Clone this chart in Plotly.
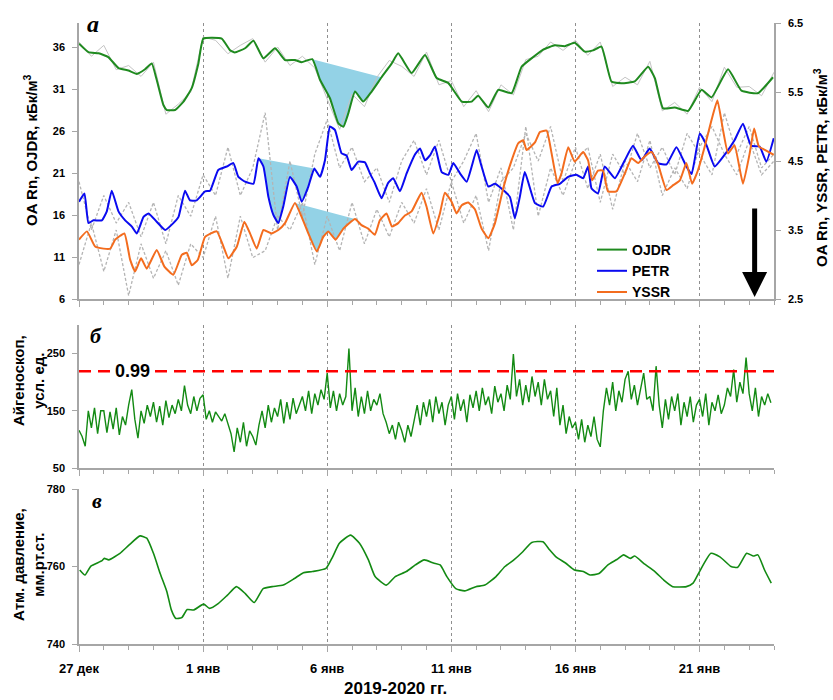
import numpy as np
import pandas as pd
import plotly.graph_objects as go

# ---------------- data ----------------
START = pd.Timestamp("2019-12-27")
END = pd.Timestamp("2020-01-24")

OJDR_DAYS = [0, 0.38, 0.79, 1.18, 1.59, 1.99, 2.33, 2.66, 2.93, 3.13, 3.40, 3.54, 3.87, 4.21, 4.54, 4.81,
             5.01, 5.75, 6.09, 6.28, 6.69, 7.03, 7.43, 7.90, 8.30, 8.70, 8.97, 9.40, 9.71, 10.11, 10.45,
             10.65, 10.85, 11.12, 11.45, 11.79, 12.19, 12.60, 12.86, 13.40, 13.94, 14.41, 14.88, 15.42,
             15.82, 16.08, 16.49, 16.89, 17.43, 17.83, 18.23, 18.70, 19.17, 19.57, 19.97, 20.38, 20.71,
             21.05, 21.45, 21.85, 22.39, 22.93, 23.20, 23.53, 24.00, 24.54, 25.08, 25.48, 26.15, 26.69,
             27.35, 27.96]
OJDR_VALUES = [36.4, 35.4, 35.25, 34.8, 33.5, 33.2, 32.8, 33.35, 34.05, 32.1, 29.1, 28.5, 28.5, 29.5, 31.1,
               34.05, 37.0, 37.0, 35.6, 35.35, 35.85, 36.75, 34.65, 35.85, 34.45, 34.45, 34.2, 34.55, 32.1,
               29.9, 26.9, 26.5, 28.1, 30.7, 29.5, 30.7, 32.4, 34.05, 35.25, 32.9, 35.05, 32.3, 31.7, 29.5,
               29.5, 30.2, 28.8, 30.9, 30.5, 33.65, 34.65, 35.7, 36.2, 36.1, 36.5, 35.45, 35.6, 36.05, 31.9,
               31.7, 31.9, 33.65, 32.3, 28.7, 28.8, 28.4, 30.9, 30.0, 33.35, 30.8, 30.5, 32.4]

PETR_DAYS = [0, 0.22, 0.38, 0.58, 0.92, 1.12, 1.32, 1.59, 1.86, 2.13,
             2.33, 2.60, 2.80, 3.13, 3.47, 3.80, 4.01, 4.27, 4.47, 4.74,
             5.08, 5.28, 5.61, 5.95, 6.22, 6.42, 6.69, 7.03, 7.23, 7.43,
             7.63, 7.83, 8.03, 8.23, 8.50, 8.77, 8.97, 9.24, 9.48, 9.71,
             9.91, 10.11, 10.31, 10.58, 10.78, 10.98, 11.25, 11.52, 11.72, 11.92,
             12.19, 12.45, 12.66, 12.93, 13.20, 13.53, 13.74, 13.94, 14.14, 14.34,
             14.61, 14.88, 15.08, 15.35, 15.62, 15.82, 16.02, 16.22, 16.49, 16.76,
             17.02, 17.36, 17.56, 17.76, 17.96, 18.37, 18.70, 19.04, 19.37, 19.71,
             20.04, 20.31, 20.51, 20.65, 20.91, 21.18, 21.59, 21.99, 22.32, 22.66,
             22.99, 23.33, 23.67, 24.07, 24.47, 24.68, 25.01, 25.28, 25.61, 26.01,
             26.41, 26.75, 27.08, 27.42, 27.69, 27.99]
PETR_VALUES = [3.91, 4.03, 3.60, 3.64, 3.64, 3.77, 4.07, 3.77, 3.64, 3.55,
               3.45, 3.69, 3.74, 3.62, 3.50, 3.60, 3.69, 4.07, 3.93, 3.93,
               4.06, 4.07, 4.37, 4.42, 4.47, 4.27, 4.20, 4.17, 4.54, 4.42,
               3.98, 3.72, 3.60, 3.84, 4.27, 4.13, 3.91, 4.13, 4.39, 4.27,
               4.51, 5.00, 4.95, 4.61, 4.58, 4.37, 4.49, 4.48, 4.32, 4.18,
               3.96, 4.18, 4.25, 4.06, 4.32, 4.59, 4.68, 4.51, 4.58, 4.71,
               4.34, 4.30, 4.47, 4.32, 4.20, 4.42, 4.66, 4.42, 4.13, 4.17,
               4.10, 3.98, 3.67, 3.98, 4.34, 3.89, 3.84, 4.13, 4.17, 4.27,
               4.30, 4.25, 4.42, 4.10, 4.03, 4.42, 4.25, 4.51, 4.72, 4.51,
               4.68, 4.47, 4.45, 4.70, 4.42, 4.31, 4.90, 4.73, 4.42, 4.59,
               4.80, 5.04, 4.72, 4.71, 4.49, 4.83]

YSSR_DAYS = [0, 0.32, 0.65, 0.99, 1.26, 1.46, 1.83, 2.06, 2.26, 2.50,
             2.73, 3.13, 3.44, 3.80, 4.14, 4.34, 4.54, 4.79, 5.08, 5.55,
             5.82, 6.02, 6.36, 6.66, 6.89, 7.16, 7.43, 7.76, 8.03, 8.30,
             8.70, 8.97, 9.24, 9.58, 9.84, 10.04, 10.34, 10.65, 11.12, 11.38,
             11.65, 11.92, 12.12, 12.39, 12.61, 12.86, 13.13, 13.40, 13.60, 13.80,
             14.00, 14.27, 14.54, 14.74, 15.01, 15.21, 15.42, 15.68, 15.95, 16.22,
             16.49, 16.76, 17.09, 17.43, 17.70, 17.90, 18.03, 18.37, 18.57, 18.84,
             19.04, 19.28, 19.44, 19.71, 19.97, 20.31, 20.51, 20.67, 20.91, 21.11,
             21.31, 21.65, 21.99, 22.26, 22.53, 22.80, 23.07, 23.33, 23.67, 23.94,
             24.21, 24.47, 24.70, 24.94, 25.21, 25.48, 25.72, 25.95, 26.15, 26.41,
             26.75, 27.02, 27.20, 27.39, 27.63, 27.99]
YSSR_VALUES = [3.36, 3.48, 3.26, 3.23, 3.23, 3.36, 3.45, 3.07, 2.90, 3.09,
               2.94, 3.21, 2.97, 2.85, 3.14, 3.17, 2.99, 3.07, 3.40, 3.48,
               3.26, 3.09, 3.26, 3.62, 3.45, 3.23, 3.50, 3.45, 3.50, 3.60,
               3.89, 3.69, 3.45, 3.19, 3.40, 3.48, 3.36, 3.52, 3.66, 3.57,
               3.52, 3.43, 3.64, 3.74, 3.55, 3.60, 3.71, 3.77, 3.91, 4.04,
               3.84, 3.45, 3.74, 4.04, 3.91, 3.74, 3.86, 3.90, 3.80, 3.52,
               3.38, 3.60, 4.10, 4.51, 4.76, 4.80, 4.66, 4.77, 4.92, 4.94,
               4.61, 4.18, 4.32, 4.70, 4.49, 4.63, 4.51, 4.22, 4.36, 4.36,
               4.06, 4.06, 4.32, 4.54, 4.47, 4.57, 4.63, 4.45, 4.08, 4.15,
               4.22, 4.47, 4.17, 4.37, 4.71, 5.09, 5.38, 4.94, 4.61, 4.73,
               4.17, 4.61, 4.97, 4.71, 4.66, 4.59]

# raw (unsmoothed) series, half-day sampling
RAW_STEP_DAYS = 0.5
OJDR_RAW = [36.6, 34.9, 36.2, 33.3, 33.8, 32.5, 34.2, 28.0, 29.2, 30.6,
            37.2, 36.8, 35.2, 36.2, 37.0, 34.2, 36.0, 33.8, 34.9, 33.5,
            29.8, 26.2, 30.4, 28.9, 32.4, 34.4, 33.7, 32.5, 35.4, 31.5,
            32.0, 28.9, 30.8, 28.3, 31.5, 30.3, 34.5, 34.9, 36.6, 35.6,
            36.8, 35.0, 36.6, 31.3, 32.4, 31.5, 34.3, 28.4, 29.4, 28.0,
            31.2, 29.5, 33.6, 31.2, 31.3, 30.2, 33.0]
PETR_RAW = [4.2, 3.5, 4.0, 3.6, 3.9, 3.4, 3.9, 3.3, 4.0, 3.7,
            4.3, 4.0, 4.7, 4.0, 4.4, 5.2, 3.5, 4.5, 3.7, 4.6,
            5.1, 4.4, 4.7, 4.2, 4.4, 3.9, 4.5, 4.8, 4.3, 4.8,
            4.2, 4.5, 4.9, 3.9, 4.4, 3.5, 5.0, 3.7, 4.4, 4.0,
            4.5, 4.7, 3.9, 4.6, 4.3, 4.9, 4.4, 4.7, 4.3, 4.9,
            4.6, 4.3, 5.2, 4.6, 5.0, 4.4, 4.6]
YSSR_RAW = [3.0, 3.6, 2.9, 3.5, 2.55, 3.3, 2.8, 3.2, 2.7, 3.3,
            3.1, 3.7, 2.8, 3.7, 3.1, 3.2, 3.7, 3.5, 3.9, 3.0,
            3.7, 3.2, 3.9, 3.3, 3.8, 3.4, 3.9, 3.6, 4.1, 3.5,
            4.2, 3.6, 4.0, 3.2, 4.2, 4.4, 4.9, 4.5, 5.0, 4.2,
            4.7, 4.1, 4.6, 3.8, 4.5, 4.2, 4.8, 4.0, 4.4, 4.1,
            4.7, 5.0, 4.6, 4.3, 4.8, 4.3, 4.5]

# shaded "drop" windows (start day, end day) for each series
OJDR_DROP = (9.40, 12.19)
PETR_DROP = (7.23, 9.48)
YSSR_DROP = (8.70, 11.12)

# eigenoscope, 3-hour sampling
AIG_STEP_HOURS = 3
AIG_VALUES = [
    116, 105, 88, 150, 120, 155, 110, 150,
    150, 112, 148, 118, 155, 108, 140, 125,
    160, 187, 135, 102, 150, 128, 160, 140,
    165, 130, 158, 125, 168, 138, 160, 145,
    170, 150, 194, 160, 145, 175, 150, 172,
    178, 135, 150, 130, 148, 140, 132, 145,
    128, 110, 78, 120, 95, 130, 88, 115,
    105, 90, 125, 150, 120, 160, 130, 155,
    140, 170, 128, 165, 135, 172, 145, 160,
    175, 150, 185, 145, 180, 160, 187, 170,
    216, 155, 185, 150, 180, 160, 175, 259,
    150, 190, 140, 175, 145, 185, 150, 170,
    160, 180, 145, 130, 110, 125, 100, 130,
    115, 95, 125, 105, 135, 160, 125, 165,
    140, 170, 130, 175, 145, 165, 125, 160,
    175, 135, 180, 150, 170, 130, 178, 155,
    185, 150, 190, 160, 175, 145, 193, 165,
    180, 150, 195, 170, 249, 175, 205, 160,
    195, 165, 210, 175, 200, 160, 205, 170,
    185, 140, 190, 125, 160, 110, 140, 120,
    130, 100, 135, 95, 125, 105, 140, 100,
    87, 150, 190, 160, 200, 150, 185, 165,
    205, 219, 170, 195, 160, 190, 216, 170,
    175, 150, 228, 160, 120, 170, 135, 175,
    150, 180, 125, 165, 140, 175, 130, 160,
    170, 140, 180, 125, 165, 150, 178, 145,
    160, 190, 175, 222, 165, 200, 180, 243,
    180, 150, 190, 140, 175, 160, 180, 164,
]
AIG_THRESHOLD = 219
AIG_THRESHOLD_LABEL = "0.99"

PRESS_DAYS = [0.03, 0.24, 0.48, 0.93, 1.02, 1.20, 1.65, 2.01, 2.46, 2.73,
              3.00, 3.27, 3.54, 3.72, 3.90, 4.14, 4.36, 4.63, 5.02, 5.26,
              5.62, 5.98, 6.34, 6.70, 7.06, 7.42, 7.78, 8.23, 8.68, 9.04,
              9.40, 9.95, 10.22, 10.49, 10.94, 11.30, 11.66, 11.93, 12.38, 12.74,
              13.19, 13.55, 13.91, 14.28, 14.55, 14.82, 15.18, 15.54, 15.99, 16.35,
              16.80, 17.16, 17.52, 17.88, 18.24, 18.69, 18.96, 19.23, 19.60, 19.96,
              20.32, 20.59, 20.95, 21.31, 21.67, 21.94, 22.21, 22.39, 22.75, 23.20,
              23.56, 23.92, 24.47, 24.74, 25.00, 25.46, 25.82, 26.27, 26.54, 26.90,
              27.17, 27.35, 27.62, 27.89]
PRESS_VALUES = [759.1, 757.8, 760.1, 761.5, 762.1, 761.7, 763.4, 765.5, 767.9, 767.3,
                763.4, 758.2, 753.5, 748.8, 746.6, 746.8, 748.9, 748.8, 750.3, 749.2,
                750.5, 752.6, 754.8, 753.0, 750.7, 754.3, 754.8, 755.2, 756.9, 758.4,
                758.7, 759.5, 762.5, 766.0, 768.1, 766.0, 761.7, 757.4, 755.2, 757.4,
                758.7, 760.4, 761.7, 760.9, 760.4, 757.4, 754.3, 753.7, 754.8, 755.2,
                757.4, 760.0, 761.7, 763.8, 766.2, 766.4, 764.3, 762.4, 760.9, 759.1,
                758.7, 757.8, 758.2, 760.4, 761.8, 763.0, 762.1, 762.7, 760.8, 758.7,
                756.5, 754.8, 754.8, 755.7, 758.7, 763.4, 762.5, 760.0, 759.8, 763.4,
                762.7, 763.0, 759.1, 755.7]

TICK_DAYS = [0, 5, 10, 15, 20, 25]
TICK_TEXT = ["27 дек", "1 янв", "6 янв", "11 янв", "16 янв", "21 янв"]

LEFT_TICKS_A = [6, 11, 16, 21, 26, 31, 36]
RIGHT_TICKS_A = [2.5, 3.5, 4.5, 5.5, 6.5]
TICKS_B = [50, 150, 250]
TICKS_C = [740, 760, 780]
ARROW_DAY = 27.22

# ---------------- helpers ----------------
def to_dt(days):
    return [START + pd.Timedelta(days=float(d)) for d in days]


def drop_polygon(days, vals, window):
    d0, d1 = window
    xs = [d for d in days if d0 - 1e-9 <= d <= d1 + 1e-9]
    ys = [v for d, v in zip(days, vals) if d0 - 1e-9 <= d <= d1 + 1e-9]
    return to_dt(xs), ys


GREEN = "#1f8a1f"
BLUE = "#0a0af0"
ORANGE = "#f36c1e"
FILLC = "#93d2e6"
AXC = "#a6a6a6"
FONT = "Liberation Sans"

raw_days = [i * RAW_STEP_DAYS for i in range(len(OJDR_RAW))]
aig_t = [START + pd.Timedelta(hours=AIG_STEP_HOURS * i) for i in range(len(AIG_VALUES))]

fig = go.Figure()

# shaded drop windows
for days, vals, win, ax in [(OJDR_DAYS, OJDR_VALUES, OJDR_DROP, "y"),
                            (PETR_DAYS, PETR_VALUES, PETR_DROP, "y2"),
                            (YSSR_DAYS, YSSR_VALUES, YSSR_DROP, "y2")]:
    px_, py_ = drop_polygon(days, vals, win)
    fig.add_trace(go.Scatter(x=px_, y=py_, fill="toself", fillcolor=FILLC, mode="none",
                             line=dict(width=0), xaxis="x", yaxis=ax, showlegend=False,
                             hoverinfo="skip"))

# raw gray lines
fig.add_trace(go.Scatter(x=to_dt(raw_days), y=OJDR_RAW, mode="lines",
                         line=dict(color="#c4c4c4", width=1), xaxis="x", yaxis="y", showlegend=False))
fig.add_trace(go.Scatter(x=to_dt(raw_days), y=PETR_RAW, mode="lines",
                         line=dict(color="#b4b4b4", width=1.3, dash="3px,2px"), xaxis="x", yaxis="y2",
                         showlegend=False))
fig.add_trace(go.Scatter(x=to_dt(raw_days), y=YSSR_RAW, mode="lines",
                         line=dict(color="#b4b4b4", width=1.3, dash="3px,2px"), xaxis="x", yaxis="y2",
                         showlegend=False))

# smoothed lines
fig.add_trace(go.Scatter(x=to_dt(OJDR_DAYS), y=OJDR_VALUES, mode="lines", name="OJDR",
                         line=dict(color=GREEN, width=2, shape="spline", smoothing=0.4),
                         xaxis="x", yaxis="y"))
fig.add_trace(go.Scatter(x=to_dt(PETR_DAYS), y=PETR_VALUES, mode="lines", name="PETR",
                         line=dict(color=BLUE, width=2, shape="spline", smoothing=0.4),
                         xaxis="x", yaxis="y2"))
fig.add_trace(go.Scatter(x=to_dt(YSSR_DAYS), y=YSSR_VALUES, mode="lines", name="YSSR",
                         line=dict(color=ORANGE, width=2, shape="spline", smoothing=0.4),
                         xaxis="x", yaxis="y2"))

# eigenoscope
fig.add_trace(go.Scatter(x=aig_t, y=AIG_VALUES, mode="lines", line=dict(color="#138a13", width=1.4),
                         xaxis="x2", yaxis="y3", showlegend=False))
# pressure
fig.add_trace(go.Scatter(x=to_dt(PRESS_DAYS), y=PRESS_VALUES, mode="lines",
                         line=dict(color="#138a13", width=1.6, shape="spline", smoothing=0.5),
                         xaxis="x3", yaxis="y4", showlegend=False))

W, H = 833, 700
XDOM = [79 / W, 774 / W]


def ydom(top_px, bot_px):
    return [1 - bot_px / H, 1 - top_px / H]


tickvals = to_dt(TICK_DAYS)
xbase = dict(type="date", range=[START, END], domain=XDOM, showline=True, linecolor=AXC, linewidth=1.5,
             ticks="outside", ticklen=6, tickcolor=AXC, tickwidth=1, tickmode="array", tickvals=tickvals,
             ticktext=TICK_TEXT, showgrid=True, gridcolor="#8f8f8f", griddash="3px,3px", gridwidth=1,
             zeroline=False, automargin=False,
             minor=dict(ticks="outside", ticklen=4, tickcolor=AXC, tickmode="linear", tick0=START,
                        dtick=86400000, showgrid=False))
tickfont_y = dict(family=FONT, size=11, color="black", weight="bold")
ybase = dict(showline=True, linecolor=AXC, linewidth=1.5, ticks="outside", ticklen=5, tickcolor=AXC,
             showgrid=False, zeroline=False, tickfont=tickfont_y, tickmode="array", ticklabelstandoff=5,
             automargin=False)

fig.update_layout(
    width=W, height=H, autosize=False,
    margin=dict(l=0, r=0, t=0, b=0, pad=0),
    paper_bgcolor="white", plot_bgcolor="white",
    xaxis=dict(xbase, anchor="y", showticklabels=False),
    xaxis2=dict(xbase, anchor="y3", showticklabels=False),
    xaxis3=dict(xbase, anchor="y4", showticklabels=True, ticklabelstandoff=6,
                tickfont=dict(family=FONT, size=13, color="black", weight="bold")),
    yaxis=dict(ybase, domain=ydom(23, 299), range=[6, 38.86], tickvals=LEFT_TICKS_A, anchor="x"),
    yaxis2=dict(ybase, overlaying="y", side="right", range=[2.5, 6.5], tickvals=RIGHT_TICKS_A,
                ticktext=["%.1f" % v for v in RIGHT_TICKS_A], anchor="x"),
    yaxis3=dict(ybase, domain=ydom(325, 468), range=[50, 300], tickvals=TICKS_B, anchor="x2"),
    yaxis4=dict(ybase, domain=ydom(489, 644), range=[740, 780], tickvals=TICKS_C, anchor="x3"),
    legend=dict(x=592 / W, y=1 - 234 / H, xanchor="left", yanchor="top", bgcolor="rgba(0,0,0,0)",
                font=dict(family=FONT, size=14, color="black", weight="bold"), itemwidth=30,
                tracegroupgap=0),
    showlegend=True,
)

fig.add_shape(type="line", xref="x2 domain", yref="y3", x0=0, x1=1, y0=AIG_THRESHOLD, y1=AIG_THRESHOLD,
              line=dict(color="#ff0000", width=2.5, dash="12px,7px"))

bold = dict(family=FONT, color="black", weight="bold")
ann = [
    dict(text="OA Rn, OJDR, кБк/м<sup>3</sup>", x=30 / W, y=1 - 150 / H, textangle=-90,
         font=dict(bold, size=15)),
    dict(text="OA Rn, YSSR, PETR, кБк/м<sup>3</sup>", x=820 / W, y=1 - 168 / H, textangle=-90,
         font=dict(bold, size=15)),
    dict(text="Айгеноскоп,<br>усл. ед.", x=28 / W, y=1 - 381 / H, textangle=-90,
         font=dict(bold, size=15)),
    dict(text="Атм. давление,<br>мм.рт.ст.", x=28 / W, y=1 - 565 / H, textangle=-90,
         font=dict(bold, size=15)),
    dict(text="2019-2020 гг.", x=395 / W, y=1 - 688 / H, font=dict(bold, size=17)),
    dict(text="а", x=93 / W, y=1 - 24 / H, font=dict(family="Liberation Serif", size=24, color="black",
                                                     weight="bold", style="italic")),
    dict(text="б", x=96 / W, y=1 - 335 / H, font=dict(family="Liberation Serif", size=22, color="black",
                                                      weight="bold", style="italic")),
    dict(text="в", x=97 / W, y=1 - 500 / H, font=dict(family="Liberation Serif", size=22, color="black",
                                                      weight="bold", style="italic")),
]
for a in ann:
    fig.add_annotation(xref="paper", yref="paper", showarrow=False, xanchor="center", yanchor="middle", **a)

fig.add_annotation(xref="paper", yref="y3", x=132 / W, y=AIG_THRESHOLD, text=AIG_THRESHOLD_LABEL,
                   showarrow=False, bgcolor="white", font=dict(bold, size=18), borderpad=1,
                   xanchor="center", yanchor="middle")

fig.add_annotation(xref="x", yref="y2", x=START + pd.Timedelta(days=ARROW_DAY), y=2.53, text="",
                   showarrow=True, ax=0, ay=-90, arrowhead=2, arrowwidth=5, arrowsize=1,
                   arrowcolor="black")

fig.write_html("out.html", config={"displayModeBar": False},
               post_script="document.body.style.margin='0';document.body.style.padding='0';")
